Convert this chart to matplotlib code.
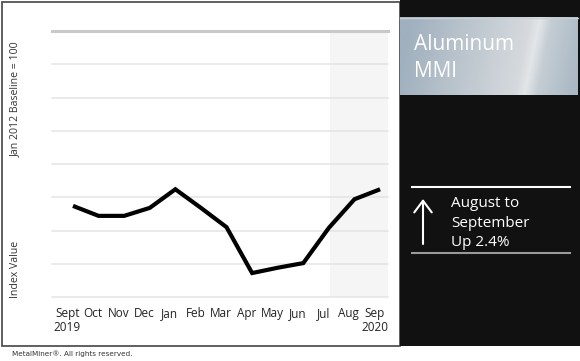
import numpy as np
import matplotlib.pyplot as plt
from matplotlib.patches import Rectangle

# Aluminum MMI, Sept 2019 - Sep 2020 (index values)
months = ["Sept", "Oct", "Nov", "Dec", "Jan", "Feb", "Mar",
          "Apr", "May", "Jun", "Jul", "Aug", "Sep"]
index_values = [73.7, 72.2, 72.2, 73.4, 76.2, 73.4, 70.5,
                63.6, 64.4, 65.1, 70.4, 74.7, 76.2]
grid_levels = [60, 65, 70, 75, 80, 85, 90, 95, 100]
years = ["2019", "2020"]

W, H = 580, 361
plt.rcParams["font.family"] = ["Open Sans", "DejaVu Sans"]
fig = plt.figure(figsize=(W / 100, H / 100), dpi=100)

# background canvas in pixel coordinates (frame, dark panel, captions)
bg = fig.add_axes([0, 0, 1, 1], zorder=0)
bg.set_xlim(0, W)
bg.set_ylim(H, 0)
bg.axis("off")
bg.add_patch(Rectangle((2, 1.5), 398, 344.5, fill=False, ec="#444444", lw=1.2))
bg.add_patch(Rectangle((400, 0), 180, 346, fc="#111111", ec="none"))

# brushed-metal title box
u = np.linspace(0, 1, 360)
v = np.linspace(0, 1, 160)
U, V = np.meshgrid(u, v)
s = U - (0.09 * (1 - V) - 0.03)
anchors = [0.0, 0.50, 0.68, 0.73, 0.80, 1.0]
rgb = np.array([[160, 176, 190], [200, 207, 213], [214, 218, 222],
                [227, 230, 232], [196, 205, 212], [170, 185, 197]]) / 255
img = np.dstack([np.interp(s, anchors, rgb[:, c]) for c in range(3)])
bg.imshow(img, extent=[400, 578, 95, 17], aspect="auto", zorder=1)
bg.plot([400, 578], [17.5, 17.5], color="#c8d0d6", lw=1, zorder=2)
bg.text(414, 50, "Aluminum", color="white", fontsize=15, va="baseline", zorder=3)
bg.text(414, 77, "MMI", color="white", fontsize=15, va="baseline", zorder=3)

# change summary
bg.plot([412, 570], [187, 187], color="white", lw=1.5)
bg.plot([412, 570], [253, 253], color="#9a9a9a", lw=1.5)
bg.annotate("", xy=(423, 199), xytext=(423, 244),
            arrowprops=dict(arrowstyle="->,head_length=0.6,head_width=0.45",
                            color="white", lw=1.5, mutation_scale=14,
                            shrinkA=0, shrinkB=0))
for txt, yb in [("August to", 207), ("September", 227), ("Up 2.4%", 246)]:
    bg.text(451, yb, txt, color="white", fontsize=11, va="baseline")

# axis captions and footer
bg.text(15, 99, "Jan 2012 Baseline = 100", rotation=90, ha="center",
        va="center", fontsize=7.6, color="#333333")
bg.text(15, 269, "Index Value", rotation=90, ha="center", va="center",
        fontsize=7.6, color="#333333")
bg.text(12, 354, "MetalMiner\u00ae. All rights reserved.", fontsize=5.2,
        color="#333333", va="center", family="DejaVu Sans")

# main chart
ax = fig.add_axes([52 / W, 1 - 297 / H, 336 / W, 266 / H], zorder=1)
x = np.arange(len(months))
ax.set_xlim(-0.82, 12.31)
ax.set_ylim(grid_levels[0], grid_levels[-1])
ax.axvspan(10.05, 12.31, color="#f5f5f5", lw=0, zorder=0)
for lv in grid_levels:
    if lv == grid_levels[-1]:
        ax.axhline(lv, color="#c9c9c9", lw=2.2, zorder=1, clip_on=False)
    else:
        ax.axhline(lv, color="#e4e4e4", lw=1.1, zorder=1, clip_on=False)
ax.plot(x, index_values, color="black", lw=3, solid_joinstyle="miter",
        solid_capstyle="butt", zorder=3)

for sp in ax.spines.values():
    sp.set_visible(False)
ax.set_yticks([])
ax.set_xticks(x - 0.22, months)
ax.tick_params(axis="x", length=0, pad=7, labelsize=8.5, labelcolor="#222222")
ax.text(0.003, -0.113, years[0], transform=ax.transAxes, ha="left",
        va="center", fontsize=8.5, color="#222222")
ax.text(1.0, -0.113, years[1], transform=ax.transAxes, ha="right",
        va="center", fontsize=8.5, color="#222222")

fig.savefig("out.png", dpi=100)
